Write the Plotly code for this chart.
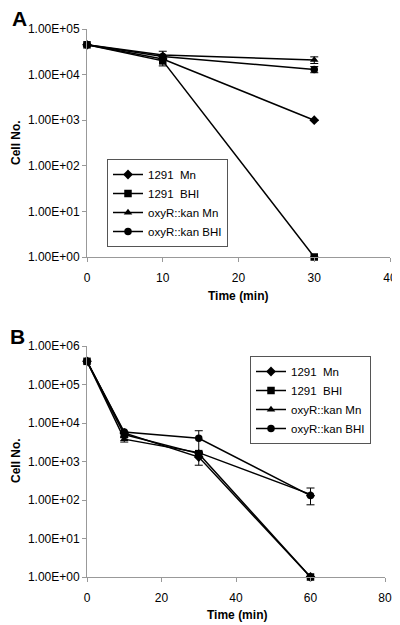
import plotly.graph_objects as go

# ---------- Data ----------
series_names = ["1291  Mn", "1291  BHI", "oxyR::kan Mn", "oxyR::kan BHI"]
symbols = ["diamond", "square", "triangle-up", "circle"]

time_a = [0, 10, 30]
a_1291_mn = [45000, 22000, 1000]
a_1291_bhi = [45000, 20000, 1]
a_oxyr_mn = [45000, 27000, 21000]
a_oxyr_bhi = [45000, 25000, 13000]
a_err_1291_mn = [0, 0, 0]
a_err_1291_bhi = [0, 4500, 0]
a_err_oxyr_mn = [0, 5500, 3500]
a_err_oxyr_bhi = [0, 0, 2000]

time_b = [0, 10, 30, 60]
b_1291_mn = [400000, 5500, 1300, 1]
b_1291_bhi = [400000, 5000, 1600, 1]
b_oxyr_mn = [400000, 3800, 1700, 140]
b_oxyr_bhi = [400000, 5800, 4000, 130]
b_err_1291_mn = [0, 0, 500, 0]
b_err_1291_bhi = [0, 800, 0, 0]
b_err_oxyr_mn = [0, 600, 0, 65]
b_err_oxyr_bhi = [0, 0, 2300, 0]

y_ticks_a = [1, 10, 100, 1000, 10000, 100000]
y_ticks_b = [1, 10, 100, 1000, 10000, 100000, 1000000]
y_ticktext_a = ["1.00E+00", "1.00E+01", "1.00E+02", "1.00E+03", "1.00E+04", "1.00E+05"]
y_ticktext_b = ["1.00E+00", "1.00E+01", "1.00E+02", "1.00E+03", "1.00E+04", "1.00E+05", "1.00E+06"]
x_ticks_a = [0, 10, 20, 30, 40]
x_ticks_b = [0, 20, 40, 60, 80]

FONT = "Liberation Sans, Arial, sans-serif"
# the page body has an 8px margin, so the figure is drawn 8px in from the window edge
OFF = 8
W, H = 400 - OFF, 625 - OFF

def px(v):
    return (v - OFF) / W

def py(v):
    return 1 - (v - OFF) / H

fig = go.Figure()

panel_a = [a_1291_mn, a_1291_bhi, a_oxyr_mn, a_oxyr_bhi]
panel_a_err = [a_err_1291_mn, a_err_1291_bhi, a_err_oxyr_mn, a_err_oxyr_bhi]
panel_b = [b_1291_mn, b_1291_bhi, b_oxyr_mn, b_oxyr_bhi]
panel_b_err = [b_err_1291_mn, b_err_1291_bhi, b_err_oxyr_mn, b_err_oxyr_bhi]

for name, sym, ys, es in zip(series_names, symbols, panel_a, panel_a_err):
    fig.add_trace(go.Scatter(
        x=time_a, y=ys, name=name, mode="lines+markers",
        line=dict(color="black", width=1.5),
        marker=dict(symbol=sym, color="black", size=7.5),
        error_y=dict(type="data", array=es, visible=True, color="black", thickness=1, width=4),
        cliponaxis=False, xaxis="x", yaxis="y", legend="legend",
    ))

for name, sym, ys, es in zip(series_names, symbols, panel_b, panel_b_err):
    fig.add_trace(go.Scatter(
        x=time_b, y=ys, name=name, mode="lines+markers",
        line=dict(color="black", width=1.5),
        marker=dict(symbol=sym, color="black", size=7.5),
        error_y=dict(type="data", array=es, visible=True, color="black", thickness=1, width=4),
        cliponaxis=False, xaxis="x2", yaxis="y2", legend="legend2",
    ))

axis_common = dict(showline=True, linecolor="#999999", linewidth=1, ticks="outside",
                   tickcolor="#999999", ticklen=4, showgrid=False, zeroline=False,
                   automargin=False,
                   tickfont=dict(family=FONT, size=12, color="black"))

legend_common = dict(xanchor="left", yanchor="top", bordercolor="#555555", borderwidth=1,
                     bgcolor="white", font=dict(family=FONT, size=11.5),
                     itemwidth=30, tracegroupgap=0)

def label(text, x, y, size=12, angle=0):
    return dict(text=text, x=px(x), y=py(y), xref="paper", yref="paper",
                xanchor="center", yanchor="middle", showarrow=False,
                textangle=angle, font=dict(family=FONT, size=size, color="black"))

fig.update_layout(
    width=W, height=H,
    margin=dict(l=0, r=0, t=0, b=0, autoexpand=False),
    paper_bgcolor="white", plot_bgcolor="white",
    font=dict(family=FONT, size=12, color="black"),
    xaxis=dict(domain=[px(87), px(390)], range=[0, 40], tickvals=x_ticks_a,
               anchor="y", ticklabelstandoff=6, **axis_common),
    yaxis=dict(domain=[py(257), py(29)], type="log", range=[0, 5], tickvals=y_ticks_a,
               ticktext=y_ticktext_a, anchor="x", **axis_common),
    xaxis2=dict(domain=[px(87), px(385)], range=[0, 80], tickvals=x_ticks_b,
                anchor="y2", ticklabelstandoff=6, **axis_common),
    yaxis2=dict(domain=[py(577), py(346)], type="log", range=[0, 6], tickvals=y_ticks_b,
                ticktext=y_ticktext_b, anchor="x2", **axis_common),
    legend=dict(x=px(107), y=py(159), **legend_common),
    legend2=dict(x=px(250), y=py(356), **legend_common),
    annotations=[
        label("<b>A</b>", 19, 19, size=21),
        label("<b>B</b>", 17, 336, size=21),
        label("<b>Cell No.</b>", 16, 143, angle=-90),
        label("<b>Cell No.</b>", 16, 461, angle=-90),
        label("<b>Time (min)</b>", 238, 296),
        label("<b>Time (min)</b>", 237, 615),
    ],
)

fig.write_html("out.html")
